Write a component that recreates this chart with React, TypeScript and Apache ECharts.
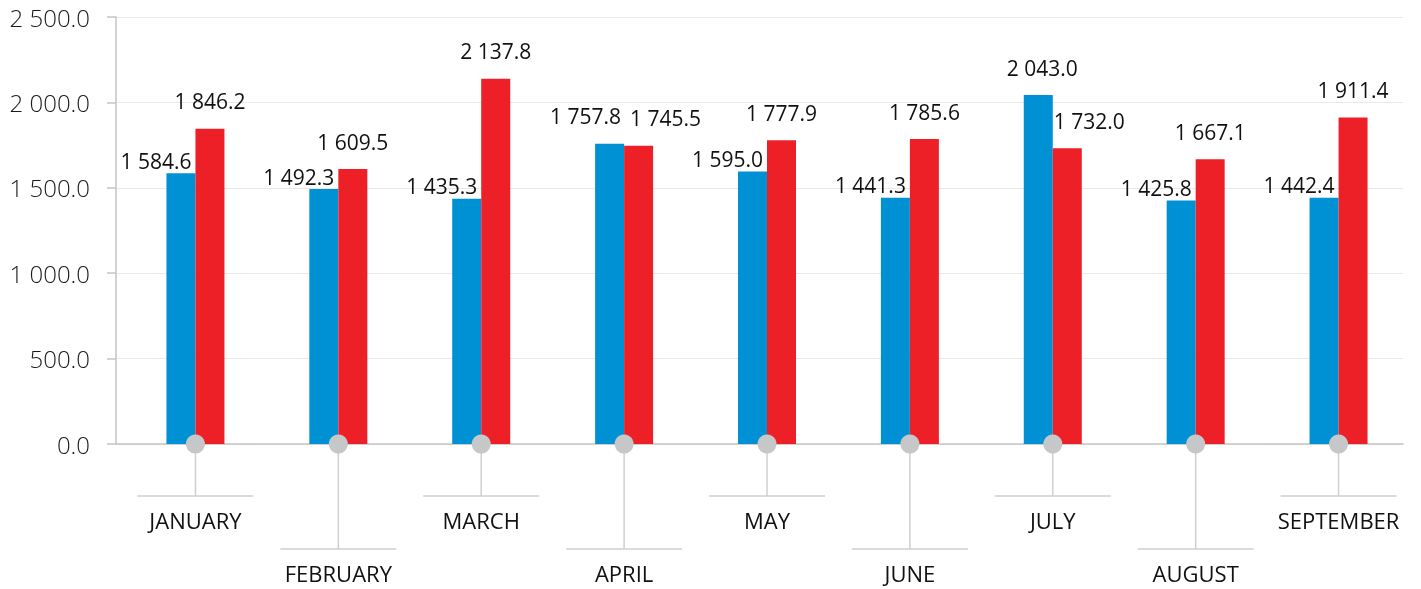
import React, { useEffect, useRef } from "react";
import * as echarts from "echarts";

const categories = ["JANUARY", "FEBRUARY", "MARCH", "APRIL", "MAY", "JUNE", "JULY", "AUGUST", "SEPTEMBER"];
const blueValues = [1584.6, 1492.3, 1435.3, 1757.8, 1595.0, 1441.3, 2043.0, 1425.8, 1442.4];
const redValues = [1846.2, 1609.5, 2137.8, 1745.5, 1777.9, 1785.6, 1732.0, 1667.1, 1911.4];
const yTicks = [0, 500, 1000, 1500, 2000, 2500];

const BLUE = "#0091d5";
const RED = "#ed2027";
const FONT = "'Open Sans', 'Noto Sans', sans-serif";

const fmt = (v: number) => v.toFixed(1).replace(/\B(?=(\d{3})+(?!\d))/g, " ");

function labelOffsets(b: number, r: number): { blue: number[]; red: number[] } {
  if (r - b > 60) return { blue: [-25, 15], red: [0, 0] };
  if (b - r > 60) return { blue: [4, 0], red: [22, 0] };
  return { blue: [-24, 0], red: [27, 0] };
}

export default function App() {
  const ref = useRef<HTMLDivElement>(null);
  useEffect(() => {
    if (!ref.current) return;
    const chart = echarts.init(ref.current, null, { renderer: "svg" });
    const labelBase = {
      show: true,
      position: "top",
      distance: 17,
      fontFamily: FONT,
      fontSize: 21,
      color: "#111",
      formatter: (p: any) => fmt(p.value),
    };
    const blueData = blueValues.map((v, i) => ({
      value: v,
      label: { offset: labelOffsets(v, redValues[i]).blue },
    }));
    const redData = redValues.map((v, i) => ({
      value: v,
      label: { offset: labelOffsets(blueValues[i], v).red },
    }));
    chart.setOption({
      animation: false,
      grid: [
        { left: 124, right: 11, top: 17, bottom: 145 },
        { left: 116, right: 18, top: 17, bottom: 145 },
      ],
      xAxis: [
        {
          type: "category",
          gridIndex: 0,
          data: categories,
          axisLine: { show: false },
          axisTick: { show: false },
          axisLabel: { show: false },
        },
        {
          type: "value",
          gridIndex: 1,
          min: 0,
          max: 1,
          axisLine: { show: true, onZero: false, lineStyle: { color: "#c4c4c4", width: 1.5 } },
          axisTick: { show: false },
          axisLabel: { show: false },
          splitLine: { show: false },
        },
      ],
      yAxis: [
        {
          type: "value",
          gridIndex: 0,
          min: yTicks[0],
          max: yTicks[yTicks.length - 1],
          interval: 500,
          show: false,
        },
        {
          type: "value",
          gridIndex: 1,
          min: yTicks[0],
          max: yTicks[yTicks.length - 1],
          interval: 500,
          axisLine: { show: true, lineStyle: { color: "#c4c4c4", width: 1.5 } },
          axisTick: { show: true, length: 9, lineStyle: { color: "#c4c4c4", width: 1.5 } },
          axisLabel: {
            margin: 26,
            fontFamily: FONT,
            fontWeight: 300,
            fontSize: 24,
            color: "#1a1a1a",
            formatter: (v: number) => fmt(v),
          },
          splitLine: { show: true, lineStyle: { color: "#e8e8e8", width: 1 } },
        },
      ],
      series: [
        {
          name: "Blue",
          type: "bar",
          xAxisIndex: 0,
          yAxisIndex: 0,
          data: blueData,
          barWidth: 29,
          barGap: "0%",
          itemStyle: { color: BLUE },
          label: labelBase,
          z: 3,
        },
        {
          name: "Red",
          type: "bar",
          xAxisIndex: 0,
          yAxisIndex: 0,
          data: redData,
          barWidth: 29,
          barGap: "0%",
          itemStyle: { color: RED },
          label: labelBase,
          z: 3,
        },
        {
          name: "Labels",
          type: "custom",
          xAxisIndex: 0,
          yAxisIndex: 0,
          clip: false,
          z: 5,
          data: categories.map((_, i) => [i, 0]),
          renderItem: (params: any, api: any) => {
            const p = api.coord([api.value(0), 0]);
            const idx = params.dataIndex;
            const lineEnd = p[1] + (idx % 2 === 1 ? 105 : 52);
            const half = 58;
            return {
              type: "group",
              children: [
                {
                  type: "line",
                  shape: { x1: p[0], y1: p[1], x2: p[0], y2: lineEnd },
                  style: { stroke: "#cfcfcf", lineWidth: 1.5 },
                },
                {
                  type: "line",
                  shape: { x1: p[0] - half, y1: lineEnd, x2: p[0] + half, y2: lineEnd },
                  style: { stroke: "#cfcfcf", lineWidth: 1.5 },
                },
                {
                  type: "circle",
                  shape: { cx: p[0], cy: p[1], r: 9.5 },
                  style: { fill: "#c6c7c9" },
                },
                {
                  type: "text",
                  x: p[0],
                  y: lineEnd + 24,
                  style: {
                    text: categories[idx],
                    fontFamily: FONT,
                    fontSize: 22,
                    fill: "#111",
                    align: "center",
                    verticalAlign: "middle",
                  },
                },
              ],
            };
          },
        },
      ],
    });
    return () => chart.dispose();
  }, []);
  return (
    <div
      ref={ref}
      style={{ position: "fixed", left: 0, top: 0, width: 1421, height: 589 }}
    />
  );
}
